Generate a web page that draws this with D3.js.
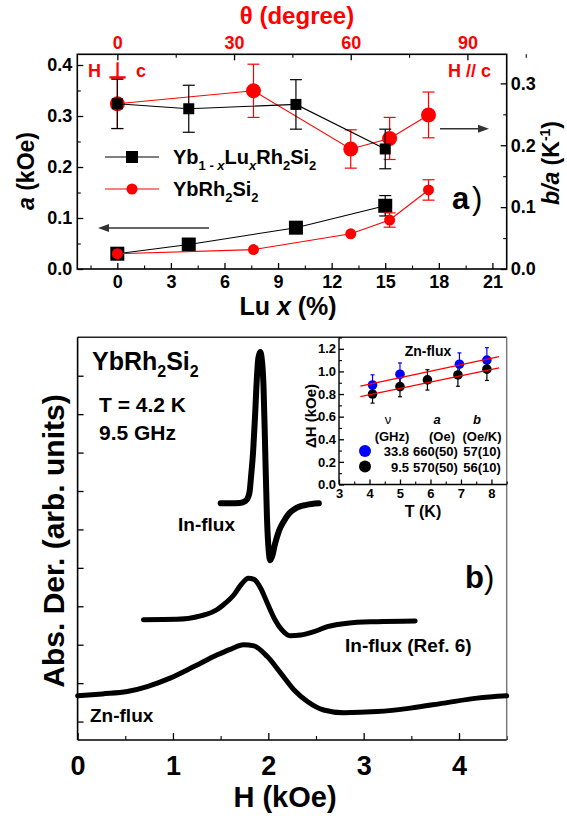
<!DOCTYPE html>
<html><head><meta charset="utf-8">
<script src="https://cdn.jsdelivr.net/npm/d3@7"></script>
<style>
html,body{margin:0;padding:0;background:#fff;}
svg{display:block;font-family:"Liberation Sans",Arial,sans-serif;font-weight:bold;}
</style></head><body>
<svg id="c" width="567" height="816"></svg>
<script>
// ---------- Panel a data ----------
const luX      = [0, 4, 10, 15];
const luBA     = [0.267, 0.259, 0.266, 0.194];
const luBAerr  = [0.040, 0.038, 0.040, 0.032];
const luA      = [0.030, 0.048, 0.081, 0.124];
const luAerr   = [0, 0, 0, 0.020];
const theta    = [0, 35, 60, 70, 80];
const thBA     = [0.267, 0.288, 0.194, 0.211, 0.249];
const thBAerr  = [0.040, 0.043, 0.031, 0.034, 0.037];
const thA      = [0.030, 0.038, 0.069, 0.096, 0.155];
const thAerr   = [0, 0, 0, 0.014, 0.020];
const luTicks  = [0, 3, 6, 9, 12, 15, 18, 21];
const thTicks  = [0, 30, 60, 90];
const aTicks   = [0.0, 0.1, 0.2, 0.3, 0.4];
const baTicks  = [0.0, 0.1, 0.2, 0.3];

// ---------- Panel b data ----------
const inFluxH = [1.50,1.60,1.70,1.76,1.79,1.805,1.82,1.84,1.86,1.875,1.895,1.915,1.935,1.95,1.968,1.986,2.004,2.02,2.04,2.07,2.11,2.16,2.22,2.30,2.40,2.53];
const inFluxS = [5.68,5.68,5.69,5.74,5.85,6.0,6.4,7.0,7.9,8.7,9.45,9.62,9.35,8.7,7.0,5.3,4.45,4.2,4.3,4.62,4.95,5.2,5.42,5.57,5.64,5.68];
const refH = [0.69,1.04,1.29,1.46,1.53,1.64,1.72,1.79,1.85,1.92,1.99,2.07,2.14,2.23,2.34,2.48,2.62,2.83,3.14,3.54];
const refS = [2.65,2.66,2.75,2.91,3.04,3.30,3.58,3.73,3.70,3.47,3.08,2.65,2.39,2.23,2.25,2.34,2.47,2.56,2.60,2.62];
const znH = [0.0,0.26,0.52,0.73,0.97,1.22,1.46,1.60,1.74,1.85,1.99,2.13,2.27,2.41,2.58,2.79,3.14,3.49,3.84,4.19,4.5];
const znS = [0.67,0.72,0.78,0.91,1.13,1.43,1.73,1.88,2.0,1.97,1.69,1.26,0.82,0.52,0.30,0.23,0.26,0.35,0.48,0.61,0.67];
const hTicks = [0, 1, 2, 3, 4];

// ---------- Inset data ----------
const blueT   = [4.1, 5.0, 6.95, 7.85];
const blueDH  = [0.88, 0.975, 1.064, 1.10];
const blueErr = [0.09, 0.10, 0.10, 0.11];
const blackT   = [4.1, 5.0, 5.9, 6.9, 7.85];
const blackDH  = [0.80, 0.866, 0.925, 0.969, 1.02];
const blackErr = [0.08, 0.09, 0.09, 0.10, 0.10];
const fitNu = ["33.8", "9.5"];
const fitA  = [0.660, 0.570];   // kOe
const fitB  = [0.057, 0.056];   // kOe/K
const fitAtxt = ["660(50)", "570(50)"];
const fitBtxt = ["57(10)", "56(10)"];
const fitRange = [3.7, 8.25];
const insetTTicks = [3, 4, 5, 6, 7, 8];
const insetYTicks = [0.0, 0.2, 0.4, 0.6, 0.8, 1.0, 1.2];

const RED = "#ff0000", BLUE = "#0000ff";
const svg = d3.select("#c");

function styleAxis(g, fs, col) {
  g.select(".domain").remove();
  g.selectAll(".tick line").attr("stroke", "#000").attr("stroke-width", 1.3);
  g.selectAll(".tick text").attr("font-size", fs).attr("font-weight", "bold").attr("fill", col || "#000")
    .attr("font-family", '"Liberation Sans",Arial,sans-serif');
}
function minors(g, axisFn, vals, len) {
  g.call(axisFn.tickValues(vals).tickSizeInner(-len).tickSizeOuter(0).tickFormat(""));
  g.select(".domain").remove();
  g.selectAll(".tick line").attr("stroke", "#000").attr("stroke-width", 1.1);
}
const rangeStep = (a, b, s) => d3.range(Math.round((b - a) / s) + 1).map(i => +(a + i * s).toFixed(4));

// ================= PANEL A =================
const pa = {l: 77.3, r: 506.7, t: 54.3, b: 269};
const xLu = d3.scaleLinear().domain([-2.24, 21.8]).range([pa.l, pa.r]);
const xTh = d3.scaleLinear().domain([-10.3, 100.1]).range([pa.l, pa.r]);
const yA  = d3.scaleLinear().domain([0, 0.421]).range([pa.b, pa.t]);
const yR  = d3.scaleLinear().domain([0, 0.347]).range([pa.b, pa.t]);
const A = svg.append("g");

A.append("g").attr("transform", `translate(0,${pa.b})`)
  .call(d3.axisBottom(xLu).tickValues(luTicks).tickSizeInner(-6).tickSizeOuter(0).tickPadding(6).tickFormat(d3.format("d")))
  .call(g => styleAxis(g, 18));
A.append("g").attr("transform", `translate(0,${pa.b})`)
  .call(g => minors(g, d3.axisBottom(xLu), rangeStep(-1.5, 21, 3), 3.5));
A.append("g").attr("transform", `translate(0,${pa.t})`)
  .call(d3.axisTop(xTh).tickValues(thTicks).tickSizeInner(-6).tickSizeOuter(0).tickPadding(5).tickFormat(d3.format("d")))
  .call(g => styleAxis(g, 18, RED));
A.append("g").attr("transform", `translate(0,${pa.t})`)
  .call(g => minors(g, d3.axisTop(xTh), rangeStep(15, 90, 30), 3.5));
A.append("g").attr("transform", `translate(${pa.l},0)`)
  .call(d3.axisLeft(yA).tickValues(aTicks).tickSizeInner(-6).tickSizeOuter(0).tickPadding(5).tickFormat(d3.format(".1f")))
  .call(g => styleAxis(g, 18));
A.append("g").attr("transform", `translate(${pa.l},0)`)
  .call(g => minors(g, d3.axisLeft(yA), rangeStep(0.05, 0.35, 0.1), 3.5));
A.append("g").attr("transform", `translate(${pa.r},0)`)
  .call(d3.axisRight(yR).tickValues(baTicks).tickSizeInner(-6).tickSizeOuter(0).tickPadding(4).tickFormat(d3.format(".1f")))
  .call(g => styleAxis(g, 18));
A.append("g").attr("transform", `translate(${pa.r},0)`)
  .call(g => minors(g, d3.axisRight(yR), rangeStep(0.05, 0.25, 0.1), 3.5));
A.append("rect").attr("x", pa.l).attr("y", pa.t).attr("width", pa.r - pa.l).attr("height", pa.b - pa.t)
  .attr("fill", "none").attr("stroke", "#000").attr("stroke-width", 1.6);

A.append("text").attr("x", 297).attr("y", 24).attr("text-anchor", "middle").attr("font-size", 24).attr("fill", RED).text("θ (degree)");
A.append("text").attr("x", 288).attr("y", 315).attr("text-anchor", "middle").attr("font-size", 25)
  .call(t => { t.append("tspan").text("Lu "); t.append("tspan").attr("font-style", "italic").text("x"); t.append("tspan").text(" (%)"); });
A.append("text").attr("transform", "translate(34,171) rotate(-90)").attr("text-anchor", "middle").attr("font-size", 23)
  .call(t => { t.append("tspan").attr("font-style", "italic").text("a"); t.append("tspan").text(" (kOe)"); });
A.append("text").attr("transform", "translate(559,163) rotate(-90)").attr("text-anchor", "middle").attr("font-size", 23)
  .call(t => { t.append("tspan").attr("font-style", "italic").text("b/a"); t.append("tspan").text(" (K");
    t.append("tspan").attr("font-size", 14).attr("dy", -9).text("-1"); t.append("tspan").attr("dy", 9).text(")"); });

function errBars(g, xs, ys, es, xS, yS, col, cap) {
  xs.forEach((x, i) => {
    if (!es[i]) return;
    const cx = xS(x), y1 = yS(ys[i] - es[i]), y2 = yS(ys[i] + es[i]);
    g.append("line").attr("x1", cx).attr("x2", cx).attr("y1", y1).attr("y2", y2).attr("stroke", col).attr("stroke-width", 1.2);
    [y1, y2].forEach(y => g.append("line").attr("x1", cx - cap).attr("x2", cx + cap).attr("y1", y).attr("y2", y).attr("stroke", col).attr("stroke-width", 1.2));
  });
}
function lineOf(g, xs, ys, xS, yS, col, w) {
  g.append("path").attr("d", d3.line().x((d, i) => xS(xs[i])).y(d => yS(d))(ys))
    .attr("fill", "none").attr("stroke", col).attr("stroke-width", w);
}
function squares(g, xs, ys, xS, yS, s) {
  g.selectAll(null).data(ys).join("rect").attr("x", (d, i) => xS(xs[i]) - s / 2).attr("y", d => yS(d) - s / 2)
    .attr("width", s).attr("height", s).attr("fill", "#000");
}
function circles(g, xs, ys, xS, yS, r, col) {
  g.selectAll(null).data(ys).join("circle").attr("cx", (d, i) => xS(xs[i])).attr("cy", d => yS(d)).attr("r", r).attr("fill", col);
}

errBars(A, theta, thBA, thBAerr, xTh, yR, RED, 6);
lineOf(A, theta, thBA, xTh, yR, RED, 1.1);
circles(A, theta, thBA, xTh, yR, 7.5, RED);
errBars(A, luX, luBA, luBAerr, xLu, yR, "#000", 6);
lineOf(A, luX, luBA, xLu, yR, "#000", 1.1);
squares(A, luX, luBA, xLu, yR, 11);
errBars(A, luX, luA, luAerr, xLu, yA, "#000", 6);
lineOf(A, luX, luA, xLu, yA, "#000", 1.1);
squares(A, luX, luA, xLu, yA, 14);
errBars(A, theta, thA, thAerr, xTh, yA, RED, 6);
lineOf(A, theta, thA, xTh, yA, RED, 1.1);
circles(A, theta, thA, xTh, yA, 5.5, RED);

A.append("text").attr("x", 88).attr("y", 77).attr("font-size", 18).attr("fill", RED).text("H");
A.append("text").attr("x", 117).attr("y", 78).attr("font-size", 22).attr("fill", RED).attr("text-anchor", "middle").text("⊥");
A.append("text").attr("x", 136).attr("y", 77).attr("font-size", 18).attr("fill", RED).text("c");
A.append("text").attr("x", 491).attr("y", 77).attr("font-size", 18).attr("fill", RED).attr("text-anchor", "end").text("H // c");
A.append("text").attr("x", 452).attr("y", 209).attr("font-size", 31).text("a");
A.append("text").attr("x", 472).attr("y", 209).attr("font-size", 31).attr("font-weight", "normal").text(")");
A.append("line").attr("x1", 440).attr("x2", 480).attr("y1", 128.7).attr("y2", 128.7).attr("stroke", "#333").attr("stroke-width", 1.5);
A.append("path").attr("d", "M489,128.7 L478,124.7 L478,132.7 Z").attr("fill", "#333");
A.append("line").attr("x1", 209).attr("x2", 107).attr("y1", 228).attr("y2", 228).attr("stroke", "#333").attr("stroke-width", 1.5);
A.append("path").attr("d", "M98,228 L109,224 L109,232 Z").attr("fill", "#333");
A.append("line").attr("x1", 105).attr("x2", 159).attr("y1", 157).attr("y2", 157).attr("stroke", "#000").attr("stroke-width", 1.1);
A.append("rect").attr("x", 126).attr("y", 151).attr("width", 12).attr("height", 12).attr("fill", "#000");
A.append("line").attr("x1", 105).attr("x2", 159).attr("y1", 189).attr("y2", 189).attr("stroke", RED).attr("stroke-width", 1.1);
A.append("circle").attr("cx", 132).attr("cy", 189).attr("r", 5.5).attr("fill", RED);
function chem(t, parts, sfs) {
  parts.forEach(p => {
    const ts = t.append("tspan").text(p.s);
    if (p.sub) ts.attr("font-size", sfs);
    if (p.dy) ts.attr("dy", p.dy);
    if (p.it) ts.attr("font-style", "italic");
  });
}
A.append("text").attr("x", 173).attr("y", 164).attr("font-size", 20).call(t => chem(t, [
  {s: "Yb"}, {s: "1 - ", sub: 1, dy: 6}, {s: "x", sub: 1, it: 1}, {s: "Lu", dy: -6}, {s: "x", sub: 1, it: 1, dy: 6}, {s: "Rh", dy: -6},
  {s: "2", sub: 1, dy: 6}, {s: "Si", dy: -6}, {s: "2", sub: 1, dy: 6}], 13));
A.append("text").attr("x", 173).attr("y", 196).attr("font-size", 20).call(t => chem(t, [
  {s: "YbRh"}, {s: "2", sub: 1, dy: 6}, {s: "Si", dy: -6}, {s: "2", sub: 1, dy: 6}], 13));

// ================= PANEL B =================
const pb = {l: 77.6, r: 506.7, t: 337.3, b: 740};
const xH = d3.scaleLinear().domain([0, 4.5]).range([pb.l, pb.r]);
const yS = d3.scaleLinear().domain([-0.48, 10]).range([pb.b, pb.t]);
const B = svg.append("g");
B.append("g").attr("transform", `translate(0,${pb.b})`)
  .call(d3.axisBottom(xH).tickValues(hTicks).tickSizeInner(-7).tickSizeOuter(0).tickPadding(16).tickFormat(d3.format("d")))
  .call(g => styleAxis(g, 27));
B.append("g").attr("transform", `translate(0,${pb.b})`)
  .call(g => minors(g, d3.axisBottom(xH), rangeStep(0.5, 4.5, 1), 4));
B.append("g").attr("transform", `translate(${pb.l},0)`)
  .call(d3.axisLeft(yS).tickValues(d3.range(0, 10)).tickSizeInner(-6).tickSizeOuter(0).tickFormat(""))
  .call(g => styleAxis(g, 10));
B.append("line").attr("x1", pb.l).attr("x2", pb.r).attr("y1", pb.t).attr("y2", pb.t).attr("stroke", "#222").attr("stroke-width", 1.4);
B.append("line").attr("x1", pb.r).attr("x2", pb.r).attr("y1", pb.t).attr("y2", pb.b).attr("stroke", "#777").attr("stroke-width", 1.4);
B.append("line").attr("x1", pb.l).attr("x2", pb.l).attr("y1", pb.t).attr("y2", pb.b).attr("stroke", "#000").attr("stroke-width", 1.6);
B.append("line").attr("x1", pb.l).attr("x2", pb.r).attr("y1", pb.b).attr("y2", pb.b).attr("stroke", "#000").attr("stroke-width", 1.6);

function curve(xs, ys, w) {
  B.append("path").attr("d", d3.line().curve(d3.curveMonotoneX).x((d, i) => xH(xs[i])).y(d => yS(d))(ys))
    .attr("fill", "none").attr("stroke", "#000").attr("stroke-width", w).attr("stroke-linecap", "round").attr("stroke-linejoin", "round");
}
curve(inFluxH, inFluxS, 6);
curve(refH, refS, 5);
curve(znH, znS, 5);

B.append("text").attr("x", 285).attr("y", 807).attr("text-anchor", "middle").attr("font-size", 29).text("H (kOe)");
B.append("text").attr("transform", "translate(64,541) rotate(-90)").attr("text-anchor", "middle").attr("font-size", 30).text("Abs. Der. (arb. units)");
B.append("text").attr("x", 92).attr("y", 370).attr("font-size", 25).call(t => chem(t, [
  {s: "YbRh"}, {s: "2", sub: 1, dy: 7}, {s: "Si", dy: -7}, {s: "2", sub: 1, dy: 7}], 16));
B.append("text").attr("x", 99).attr("y", 412).attr("font-size", 21).text("T = 4.2 K");
B.append("text").attr("x", 99).attr("y", 440).attr("font-size", 21).text("9.5 GHz");
B.append("text").attr("x", 178).attr("y", 531).attr("font-size", 19).text("In-flux");
B.append("text").attr("x", 345).attr("y", 652).attr("font-size", 19).text("In-flux (Ref. 6)");
B.append("text").attr("x", 90).attr("y", 722).attr("font-size", 19).text("Zn-flux");
B.append("text").attr("x", 465).attr("y", 588).attr("font-size", 31).text("b");
B.append("text").attr("x", 484).attr("y", 588).attr("font-size", 31).attr("font-weight", "normal").text(")");

// ================= INSET =================
const pi = {l: 339, r: 506.7, t: 337.5, b: 484.5};
const xT = d3.scaleLinear().domain([3, 8.5]).range([pi.l, pi.r]);
const yD = d3.scaleLinear().domain([0, 1.3]).range([pi.b, pi.t]);
const I = svg.append("g");
I.append("g").attr("transform", `translate(0,${pi.b})`)
  .call(d3.axisBottom(xT).tickValues(insetTTicks).tickSizeInner(-5).tickSizeOuter(0).tickPadding(4).tickFormat(d3.format("d")))
  .call(g => styleAxis(g, 13));
I.append("g").attr("transform", `translate(0,${pi.b})`)
  .call(g => minors(g, d3.axisBottom(xT), rangeStep(3.5, 8.5, 1), 3));
I.append("g").attr("transform", `translate(${pi.l},0)`)
  .call(d3.axisLeft(yD).tickValues(insetYTicks).tickSizeInner(-5).tickSizeOuter(0).tickPadding(3).tickFormat(d3.format(".1f")))
  .call(g => styleAxis(g, 13));
I.append("g").attr("transform", `translate(${pi.l},0)`)
  .call(g => minors(g, d3.axisLeft(yD), rangeStep(0.1, 1.3, 0.2), 3));
I.append("line").attr("x1", pi.l).attr("x2", pi.l).attr("y1", pi.t).attr("y2", pi.b).attr("stroke", "#000").attr("stroke-width", 1.4);
I.append("line").attr("x1", pi.l).attr("x2", pi.r).attr("y1", pi.b).attr("y2", pi.b).attr("stroke", "#000").attr("stroke-width", 1.4);

errBars(I, blueT, blueDH, blueErr, xT, yD, BLUE, 2);
errBars(I, blackT, blackDH, blackErr, xT, yD, "#000", 2);
circles(I, blueT, blueDH, xT, yD, 4.8, BLUE);
circles(I, blackT, blackDH, xT, yD, 4.8, "#000");
fitA.forEach((a, k) => {
  I.append("line").attr("x1", xT(fitRange[0])).attr("x2", xT(fitRange[1]))
    .attr("y1", yD(a + fitB[k] * fitRange[0])).attr("y2", yD(a + fitB[k] * fitRange[1]))
    .attr("stroke", RED).attr("stroke-width", 1.3);
});

I.append("text").attr("x", 428).attr("y", 356).attr("text-anchor", "middle").attr("font-size", 14).text("Zn-flux");
I.append("text").attr("transform", "translate(316,416) rotate(-90)").attr("text-anchor", "middle").attr("font-size", 15).text("ΔH (kOe)");
I.append("text").attr("x", 423).attr("y", 517).attr("text-anchor", "middle").attr("font-size", 16).text("T (K)");
I.append("text").attr("x", 388).attr("y", 424).attr("text-anchor", "middle").attr("font-size", 13).attr("font-weight", "normal").text("ν");
I.append("text").attr("x", 437).attr("y", 424).attr("text-anchor", "middle").attr("font-size", 13).attr("font-style", "italic").text("a");
I.append("text").attr("x", 477).attr("y", 424).attr("text-anchor", "middle").attr("font-size", 13).attr("font-style", "italic").text("b");
I.append("text").attr("x", 392).attr("y", 441).attr("text-anchor", "middle").attr("font-size", 13).text("(GHz)");
I.append("text").attr("x", 442).attr("y", 441).attr("text-anchor", "middle").attr("font-size", 13).text("(Oe)");
I.append("text").attr("x", 482).attr("y", 441).attr("text-anchor", "middle").attr("font-size", 13).text("(Oe/K)");
[BLUE, "#000"].forEach((c, k) => {
  const y = 451 + k * 15.5;
  I.append("circle").attr("cx", 365).attr("cy", y).attr("r", 6).attr("fill", c);
  I.append("text").attr("x", 409).attr("y", y + 5).attr("text-anchor", "end").attr("font-size", 13).text(fitNu[k]);
  I.append("text").attr("x", 435.5).attr("y", y + 5).attr("text-anchor", "middle").attr("font-size", 13).text(fitAtxt[k]);
  I.append("text").attr("x", 482).attr("y", y + 5).attr("text-anchor", "middle").attr("font-size", 13).text(fitBtxt[k]);
});
</script></body></html>
